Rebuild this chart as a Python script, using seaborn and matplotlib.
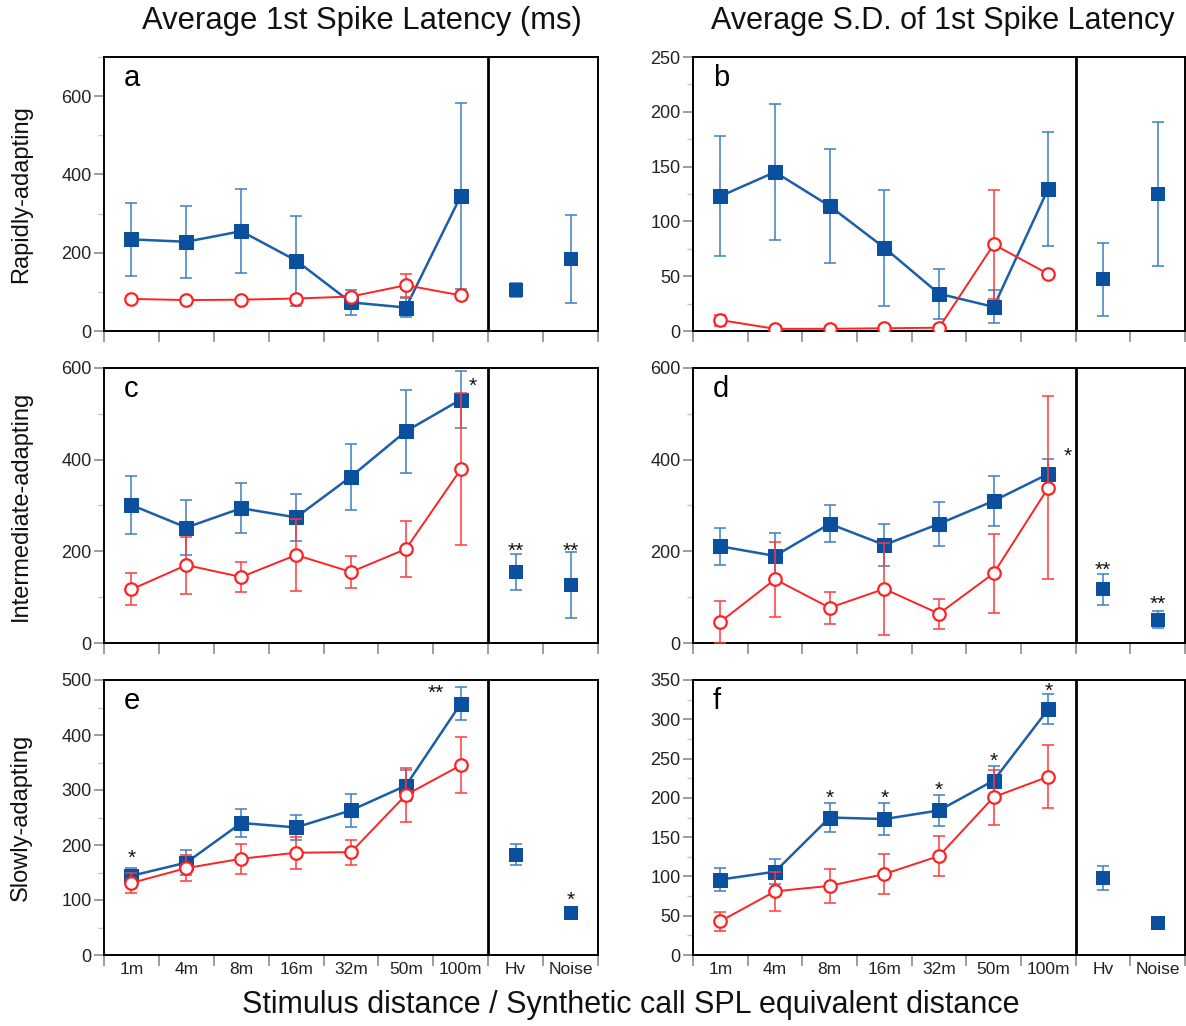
import numpy as np
import matplotlib
matplotlib.use("Agg")
import matplotlib.pyplot as plt
from matplotlib.ticker import MultipleLocator, FixedLocator, NullFormatter, FixedFormatter
import seaborn as sns

# ---------------------------------------------------------------- data
categories = ["1m", "4m", "8m", "16m", "32m", "50m", "100m", "Hv", "Noise"]

# a: mean 1st spike latency, rapidly-adapting
a_blue_mean = [234, 228, 255, 180, 73, 60, 345, 104, 184]
a_blue_err = [94, 92, 108, 115, 32, 25, 237, 18, 113]
a_red_mean = [82, 79, 80, 83, 88, 117, 91]
a_red_err = [5, 4, 4, 6, 6, 29, 5]

# b: S.D. of 1st spike latency, rapidly-adapting
b_blue_mean = [123, 145, 114, 76, 34, 22, 130, 47, 125]
b_blue_err = [55, 62, 52, 53, 23, 15, 52, 33, 66]
b_red_mean = [10, 2, 2, 2.5, 3, 79, 52]
b_red_err = [5, 1, 1, 1, 1, 50, 2]

# c: mean 1st spike latency, intermediate-adapting
c_blue_mean = [301, 252, 294, 274, 363, 462, 531, 155, 126]
c_blue_err = [64, 61, 55, 52, 72, 91, 62, 40, 72]
c_red_mean = [117, 170, 144, 192, 155, 205, 379]
c_red_err = [35, 62, 32, 79, 34, 62, 166]

# d: S.D. of 1st spike latency, intermediate-adapting
d_blue_mean = [211, 190, 260, 214, 260, 310, 369, 117, 51]
d_blue_err = [40, 50, 40, 46, 48, 55, 32, 34, 18]
d_red_mean = [46, 139, 77, 118, 64, 152, 339]
d_red_err = [45, 82, 35, 101, 33, 86, 199]

# e: mean 1st spike latency, slowly-adapting
e_blue_mean = [144, 168, 240, 232, 263, 308, 457, 182, 76]
e_blue_err = [15, 23, 25, 23, 30, 28, 30, 19, 9]
e_red_mean = [131, 158, 175, 186, 187, 291, 345]
e_red_err = [18, 24, 27, 29, 23, 49, 51]

# f: S.D. of 1st spike latency, slowly-adapting
f_blue_mean = [96, 106, 175, 173, 184, 222, 313, 98, 41]
f_blue_err = [15, 16, 19, 20, 20, 19, 19, 15, 8]
f_red_mean = [43, 81, 88, 103, 126, 201, 227]
f_red_err = [12, 25, 22, 25, 26, 35, 40]

# significance marks: (category index, y, text, x offset)
c_marks = [(6, 560, "*", 0.22), (7, 200, "**", 0.0), (8, 200, "**", 0.0)]
d_marks = [(6, 408, "*", 0.35), (7, 158, "**", 0.0), (8, 84, "**", 0.0)]
e_marks = [(0, 176, "*", 0.0), (6, 475, "**", -0.45), (8, 100, "*", 0.0)]
f_marks = [(2, 199, "*", 0.0), (3, 199, "*", 0.0), (4, 209, "*", 0.0),
           (5, 246, "*", 0.0), (6, 335, "*", 0.0)]

# ---------------------------------------------------------------- style
sns.set_theme(style="ticks")
plt.rcParams["font.family"] = ["Liberation Sans", "DejaVu Sans"]

BLUE_MARK = "#0b4f9f"
BLUE_LINE = "#1b5ea9"
BLUE_ERR = "#3d7fc2"
RED = "#ff2222"
RED_ERR = "#ff3a3a"

W, H = 1186, 1026
fig = plt.figure(figsize=(W / 100, H / 100), dpi=100)

col_x = [(104, 598), (693, 1185)]
row_y = [(57, 331), (368, 643), (680, 955)]


def make_ax(col, row):
    x0, x1 = col_x[col]
    y0, y1 = row_y[row]
    return fig.add_axes([x0 / W, 1 - y1 / H, (x1 - x0) / W, (y1 - y0) / H])


panels = [
    ("a", 0, 0, a_blue_mean, a_blue_err, a_red_mean, a_red_err, 700, 200, 100, []),
    ("b", 1, 0, b_blue_mean, b_blue_err, b_red_mean, b_red_err, 250, 50, 25, []),
    ("c", 0, 1, c_blue_mean, c_blue_err, c_red_mean, c_red_err, 600, 200, 100, c_marks),
    ("d", 1, 1, d_blue_mean, d_blue_err, d_red_mean, d_red_err, 600, 200, 100, d_marks),
    ("e", 0, 2, e_blue_mean, e_blue_err, e_red_mean, e_red_err, 500, 100, 50, e_marks),
    ("f", 1, 2, f_blue_mean, f_blue_err, f_red_mean, f_red_err, 350, 50, 25, f_marks),
]

pos = np.arange(len(categories))
pos_dist = pos[:7]
pos_extra = pos[7:]

for letter, col, row, bm, be, rm, re_, ymax, ymaj, ymin_, marks in panels:
    ax = make_ax(col, row)
    bm = np.asarray(bm, float)
    be = np.asarray(be, float)
    rm = np.asarray(rm, float)
    re_ = np.asarray(re_, float)

    # blue series: distance stimuli joined by a line, Hv / Noise as lone points
    ax.errorbar(pos, bm, yerr=be, fmt="none", ecolor=BLUE_ERR, elinewidth=1.1,
                capsize=4.5, capthick=1.1, zorder=2)
    sns.lineplot(x=pos_dist, y=bm[:7], ax=ax, color=BLUE_LINE, linewidth=1.8,
                 marker="s", markersize=9.5, markerfacecolor=BLUE_MARK,
                 markeredgecolor=BLUE_MARK, sort=False, zorder=3)
    sns.scatterplot(x=pos_extra, y=bm[7:], ax=ax, marker="s", s=90,
                    color=BLUE_MARK, edgecolor=BLUE_MARK, linewidth=0, zorder=3)

    # red series
    ax.errorbar(pos_dist, rm, yerr=re_, fmt="none", ecolor=RED_ERR, elinewidth=1.1,
                capsize=4.5, capthick=1.1, zorder=4)
    sns.lineplot(x=pos_dist, y=rm, ax=ax, color=RED, linewidth=1.4,
                 marker="o", markersize=9, markerfacecolor="white",
                 markeredgecolor=RED, markeredgewidth=1.6, sort=False, zorder=5)

    for idx, y, txt, dx in marks:
        ax.text(pos[idx] + dx, y, txt, ha="center", va="center",
                fontsize=15, color="#111111", zorder=6)

    ax.axvline(6.5, color="black", linewidth=2.0, zorder=6)

    ax.set_xlim(-0.5, 8.5)
    ax.set_ylim(0, ymax)
    ax.yaxis.set_major_locator(MultipleLocator(ymaj))
    ax.yaxis.set_minor_locator(MultipleLocator(ymin_))

    ax.xaxis.set_major_locator(FixedLocator(np.arange(-0.5, 9.0, 1.0)))
    ax.xaxis.set_major_formatter(NullFormatter())
    ax.xaxis.set_minor_locator(FixedLocator(pos))
    if row == 2:
        ax.xaxis.set_minor_formatter(FixedFormatter(categories))
    else:
        ax.xaxis.set_minor_formatter(NullFormatter())

    ax.tick_params(axis="x", which="major", length=8, width=1.2, color="#8c8c8c")
    ax.tick_params(axis="x", which="minor", length=0, pad=5, labelsize=12.5,
                   labelcolor="#222222")
    ax.tick_params(axis="y", which="major", length=7, width=1.2, color="#8c8c8c",
                   labelsize=13, labelcolor="#222222", pad=2)
    ax.tick_params(axis="y", which="minor", length=4, width=1.0, color="#c4c4c4")

    for sp in ax.spines.values():
        sp.set_visible(True)
        sp.set_color("black")
        sp.set_linewidth(1.4)

    ax.set_xlabel("")
    ax.set_ylabel("")
    ax.text(0.04, 0.975, letter, transform=ax.transAxes, ha="left", va="top",
            fontsize=21, color="black")

# column titles, row labels and the shared x label
fig.text(362 / W, 1 - 21 / H, "Average 1st Spike Latency (ms)", ha="center",
         va="center", fontsize=22.3, color="#111111")
fig.text(943 / W, 1 - 21 / H, "Average S.D. of 1st Spike Latency", ha="center",
         va="center", fontsize=22, color="#111111")

row_names = ["Rapidly-adapting", "Intermediate-adapting", "Slowly-adapting"]
for (y0, y1), name in zip(row_y, row_names):
    fig.text(21 / W, 1 - (y0 + y1) / 2 / H, name, rotation=90, ha="center",
             va="center", fontsize=17, color="#111111")

fig.text(631 / W, 1 - 1005 / H,
         "Stimulus distance / Synthetic call SPL equivalent distance",
         ha="center", va="center", fontsize=22, color="#111111")

fig.savefig("out.png", dpi=100, facecolor="white")
